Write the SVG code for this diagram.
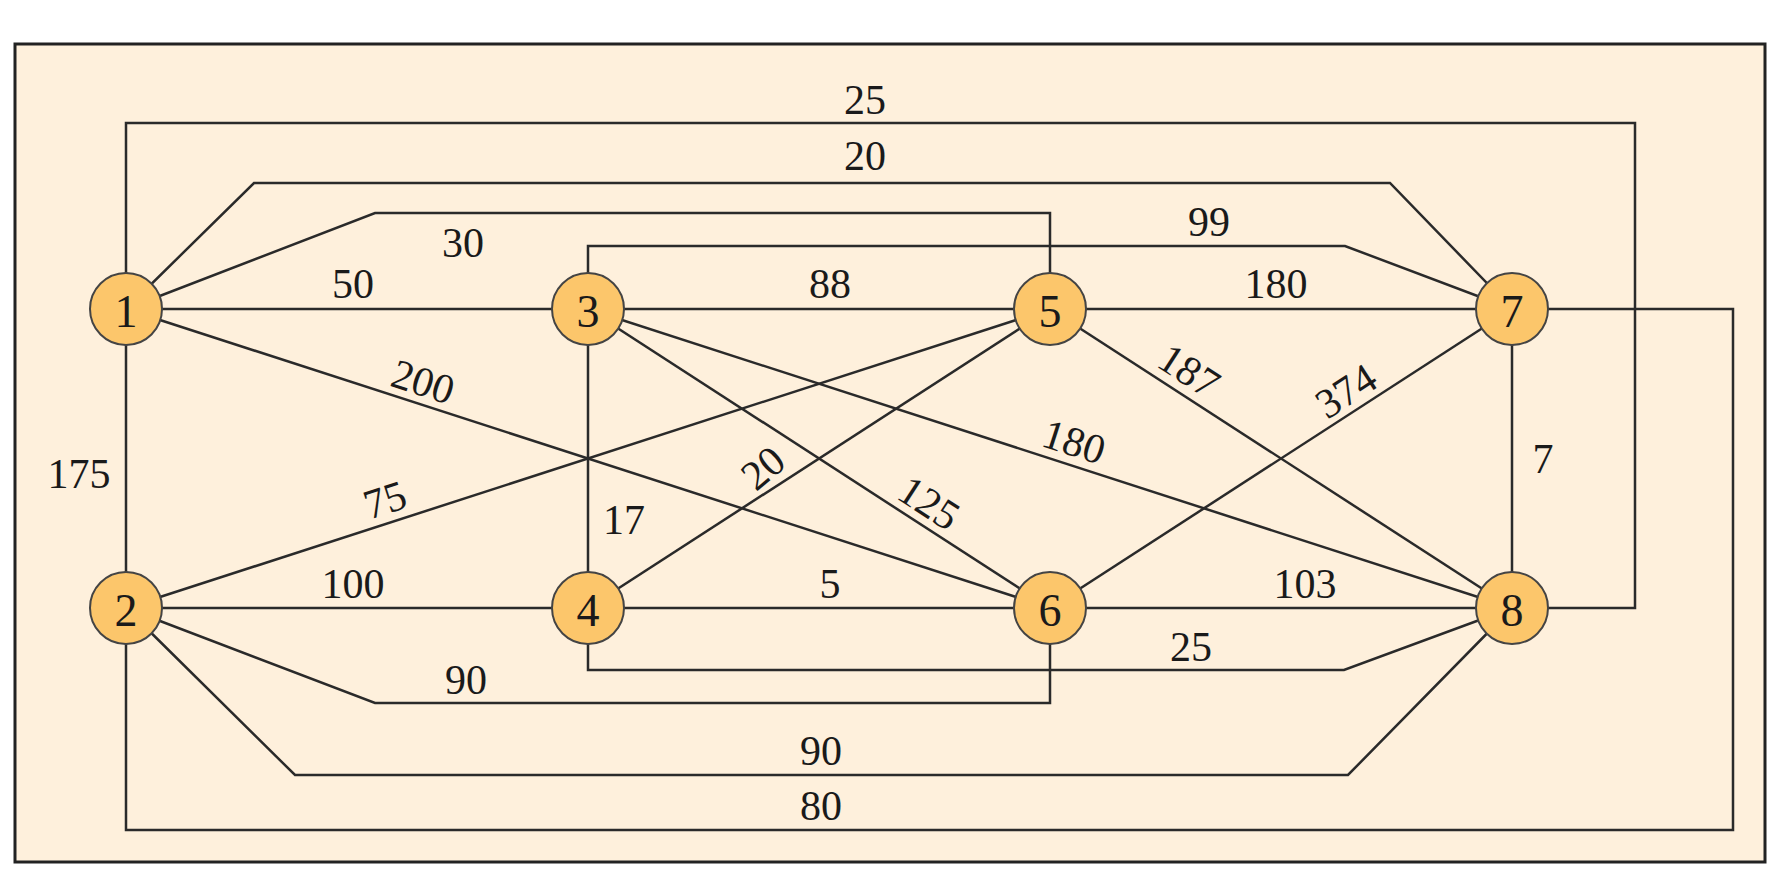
<svg xmlns="http://www.w3.org/2000/svg" width="1786" height="896" viewBox="0 0 1786 896">
<style>
.e{fill:none;stroke:#2a2a2a;stroke-width:2.5}
.n{fill:#fcc66b;stroke:#444;stroke-width:2}
text{font-family:"Liberation Serif",serif;font-size:42px;fill:#1a1a1a;text-anchor:middle;dominant-baseline:central}
.nl{font-size:46px}
</style>
<rect x="0" y="0" width="1786" height="896" fill="#fff"/>
<rect x="15" y="44" width="1750" height="818" fill="#fef0dc" stroke="#222" stroke-width="3"/>
<g id="connectors">
<path class="e" d="M126,309 V123 H1635 V608 H1512"/>
<path class="e" d="M126,309 L254,183 H1390 L1512,309"/>
<path class="e" d="M126,309 L375,213 H1050 V309"/>
<path class="e" d="M588,309 V246 H1345 L1512,309"/>
<path class="e" d="M126,309 H1512"/>
<path class="e" d="M126,309 V608"/>
<path class="e" d="M126,309 L1050,608"/>
<path class="e" d="M126,608 L1050,309"/>
<path class="e" d="M588,309 V608"/>
<path class="e" d="M588,608 L1050,309"/>
<path class="e" d="M588,309 L1050,608"/>
<path class="e" d="M588,309 L1512,608"/>
<path class="e" d="M1050,309 L1512,608"/>
<path class="e" d="M1050,608 L1512,309"/>
<path class="e" d="M1512,309 V608"/>
<path class="e" d="M126,608 H1512"/>
<path class="e" d="M588,608 V670 H1344 L1512,608"/>
<path class="e" d="M126,608 L375,703 H1050 V608"/>
<path class="e" d="M126,608 L295,775 H1348 L1512,608"/>
<path class="e" d="M126,608 V830 H1733 V309 H1512"/>
</g>
<g id="labels">
<text x="865" y="100">25</text>
<text x="865" y="156">20</text>
<text x="463" y="243">30</text>
<text x="1209" y="222">99</text>
<text x="353" y="284">50</text>
<text x="830" y="284">88</text>
<text x="1276" y="284">180</text>
<text x="79" y="474">175</text>
<text x="423" y="382" transform="rotate(18 423 382)">200</text>
<text x="385" y="500" transform="rotate(-18 385 500)">75</text>
<text x="624" y="520">17</text>
<text x="763" y="468" transform="rotate(-40 763 468)">20</text>
<text x="929" y="503" transform="rotate(33 929 503)">125</text>
<text x="1074" y="442" transform="rotate(18 1074 442)">180</text>
<text x="1189" y="371" transform="rotate(33 1189 371)">187</text>
<text x="1346" y="391" transform="rotate(-33 1346 391)">374</text>
<text x="1543" y="459">7</text>
<text x="353" y="584">100</text>
<text x="830" y="584">5</text>
<text x="1305" y="584">103</text>
<text x="1191" y="647">25</text>
<text x="466" y="680">90</text>
<text x="821" y="751">90</text>
<text x="821" y="806">80</text>
</g>
<g id="node1"><circle class="n" cx="126" cy="309" r="36"/><text class="nl" x="126" y="311">1</text></g>
<g id="node2"><circle class="n" cx="126" cy="608" r="36"/><text class="nl" x="126" y="610">2</text></g>
<g id="node3"><circle class="n" cx="588" cy="309" r="36"/><text class="nl" x="588" y="311">3</text></g>
<g id="node4"><circle class="n" cx="588" cy="608" r="36"/><text class="nl" x="588" y="610">4</text></g>
<g id="node5"><circle class="n" cx="1050" cy="309" r="36"/><text class="nl" x="1050" y="311">5</text></g>
<g id="node6"><circle class="n" cx="1050" cy="608" r="36"/><text class="nl" x="1050" y="610">6</text></g>
<g id="node7"><circle class="n" cx="1512" cy="309" r="36"/><text class="nl" x="1512" y="311">7</text></g>
<g id="node8"><circle class="n" cx="1512" cy="608" r="36"/><text class="nl" x="1512" y="610">8</text></g>
</svg>
